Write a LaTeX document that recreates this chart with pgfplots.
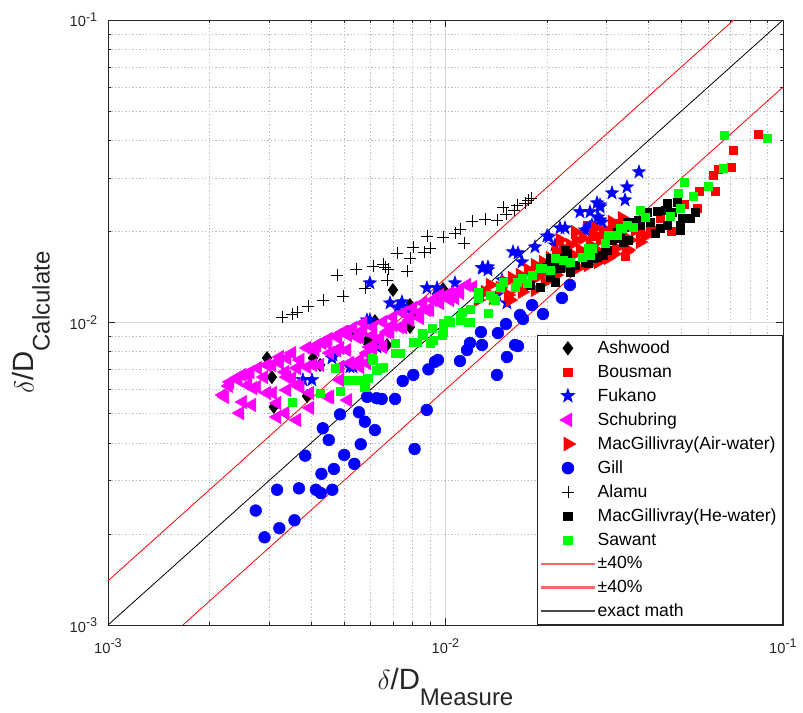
\documentclass[border=0pt]{standalone}
\usepackage{fontspec}
\setmainfont{Liberation Sans}
\usepackage{pgfplots}
\pgfplotsset{compat=1.18}
\definecolor{mgreen}{rgb}{0,1,0}
\definecolor{mmag}{rgb}{1,0,1}
\definecolor{mred}{rgb}{1,0,0}
\definecolor{mblue}{rgb}{0,0,1}
\definecolor{axgray}{HTML}{262626}
\pgfdeclareplotmark{fstar}{%
  \pgfpathmoveto{\pgfpointpolar{90}{\pgfplotmarksize}}%
  \pgfpathlineto{\pgfpointpolar{126}{0.40\pgfplotmarksize}}%
  \pgfpathlineto{\pgfpointpolar{162}{\pgfplotmarksize}}%
  \pgfpathlineto{\pgfpointpolar{198}{0.40\pgfplotmarksize}}%
  \pgfpathlineto{\pgfpointpolar{234}{\pgfplotmarksize}}%
  \pgfpathlineto{\pgfpointpolar{270}{0.40\pgfplotmarksize}}%
  \pgfpathlineto{\pgfpointpolar{306}{\pgfplotmarksize}}%
  \pgfpathlineto{\pgfpointpolar{342}{0.40\pgfplotmarksize}}%
  \pgfpathlineto{\pgfpointpolar{18}{\pgfplotmarksize}}%
  \pgfpathlineto{\pgfpointpolar{54}{0.40\pgfplotmarksize}}%
  \pgfpathclose
  \pgfusepathqfillstroke}
\newcommand{\tl}[1]{10\raisebox{4pt}{\fontsize{9.5}{10}\selectfont #1}}
\begin{document}
\begin{tikzpicture}
\begin{axis}[name=ax,
  scale only axis, width=506.25pt, height=453.75pt,
  xmode=log, ymode=log,
  xmin=1e-3, xmax=1e-1, ymin=1e-3, ymax=1e-1,
  xtick={0.001,0.01,0.1}, ytick={0.001,0.01,0.1},
  xticklabels={\tl{-3},\tl{-2},\tl{-1}},
  yticklabels={\tl{-3},\tl{-2},\tl{-1}},
  minor xtick={0.002,0.003,0.004,0.005,0.006,0.007,0.008,0.009,0.02,0.03,0.04,0.05,0.06,0.07,0.08,0.09},
  minor ytick={0.002,0.003,0.004,0.005,0.006,0.007,0.008,0.009,0.02,0.03,0.04,0.05,0.06,0.07,0.08,0.09},
  xmajorgrids, ymajorgrids, xminorgrids, yminorgrids,
  major grid style={color=black!15, line width=0.5pt},
  minor grid style={color=black!25, dash pattern=on 1pt off 1.6pt, line width=0.5pt},
  axis line style={color=axgray, line width=0.6pt},
  tick style={color=axgray, line width=0.5pt},
  major tick length=5pt, minor tick length=2.6pt,
  tick label style={font=\fontsize{11}{12}\selectfont, text=axgray},
  xticklabel style={yshift=-7pt},
  yticklabel style={xshift=-4.5pt},
  ylabel={$\delta$/D\raisebox{-12pt}{\fontsize{18}{20}\selectfont Calculate}},
  xlabel={$\delta$/D\raisebox{-12pt}{\fontsize{18}{20}\selectfont Measure}},
  ylabel style={font=\fontsize{22}{24}\selectfont, text=axgray, at={(rel axis cs:-0.110,0.5)}, anchor=base},
  xlabel style={font=\fontsize{22}{24}\selectfont, text=axgray, at={(rel axis cs:0.5,-0.1074)}, anchor=base},
  legend image code/.code={\draw[mark repeat=2,mark phase=2,#1] plot coordinates {(0pt,0pt) (20pt,0pt) (40pt,0pt)};},
  legend style={at={(1,0)}, anchor=south east, draw=axgray, fill=white, line width=0.6pt,
    font=\fontsize{13.2}{15.5}\selectfont, cells={anchor=west}, row sep=3pt, inner sep=2.5pt},
  legend cell align=left,
]
% Ashwood
\addplot[only marks, mark=diamond*, mark size=4.9pt, color=black] coordinates {
(2.96e-3,7.63e-3) (3.06e-3,6.60e-3) (3.10e-3,5.26e-3) (3.89e-3,5.71e-3) (4.05e-3,7.63e-3)
(4.25e-3,7.24e-3) (5.14e-3,9.30e-3) (5.85e-3,8.62e-3) (6.18e-3,1.011e-2) (6.71e-3,8.43e-3)
(5.39e-3,9.23e-3) (5.89e-3,8.80e-3) (6.99e-3,1.281e-2) (7.85e-3,1.143e-2) (9.83e-3,1.291e-2)
(9.44e-3,1.243e-2) (7.85e-3,9.66e-3) (8.01e-3,1.083e-2)
};
\addlegendentry{Ashwood}
% Bousman
\addplot[only marks, mark=square*, mark size=3.1pt, color=mred] coordinates {
(8.435e-2,4.200e-2) (7.111e-2,3.718e-2) (7.014e-2,3.266e-2) (6.418e-2,3.217e-2) (6.204e-2,3.074e-2)
(6.291e-2,2.721e-2) (5.639e-2,2.721e-2) (5.562e-2,2.391e-2) (5.091e-2,2.465e-2) (4.659e-2,2.007e-2)
(4.092e-2,2.022e-2) (3.404e-2,1.659e-2) (3.180e-2,2.133e-2) (2.774e-2,1.932e-2) (2.626e-2,2.101e-2)
(3.357e-2,2.101e-2) (3.136e-2,1.737e-2) (4.322e-2,2.215e-2) (3.770e-2,1.992e-2) (2.989e-2,2.022e-2)
};
\addlegendentry{Bousman}
% Fukano
\addplot[only marks, mark=fstar, mark size=5.3pt, color=mblue] coordinates {
(3.78e-3,6.46e-3) (4.02e-3,6.46e-3) (4.61e-3,7.63e-3) (5.21e-3,7.13e-3) (4.64e-3,7.81e-3)
(5.85e-3,1.019e-2) (6.26e-3,8.43e-3) (6.85e-3,1.160e-2) (7.23e-3,1.125e-2) (5.97e-3,1.351e-2)
(7.43e-3,1.169e-2) (8.81e-3,1.301e-2) (9.44e-3,1.301e-2) (1.067e-2,1.351e-2) (5.97e-3,1.019e-2)
(5.32e-3,7.13e-3) (6.26e-3,8.30e-3) (7.69e-3,1.108e-2) (1.284e-2,1.515e-2) (1.336e-2,1.526e-2)
(1.471e-2,1.382e-2) (1.585e-2,1.711e-2) (1.686e-2,1.585e-2) (1.842e-2,1.777e-2) (1.999e-2,1.932e-2)
(2.111e-2,1.804e-2) (2.184e-2,2.053e-2) (2.503e-2,2.320e-2) (2.680e-2,2.320e-2) (2.812e-2,2.484e-2)
(2.591e-2,2.022e-2) (2.680e-2,2.069e-2) (1.521e-2,1.160e-2) (1.421e-2,1.233e-2) (3.115e-2,2.680e-2)
(3.404e-2,2.541e-2) (3.450e-2,2.805e-2) (2.870e-2,2.446e-2) (2.831e-2,2.232e-2) (2.910e-2,2.149e-2)
(2.260e-2,2.053e-2) (2.026e-2,1.917e-2) (1.640e-2,1.698e-2) (3.744e-2,3.145e-2) (2.870e-2,2.409e-2)
(2.717e-2,2.101e-2) (2.555e-2,1.977e-2) (2.870e-2,2.182e-2) (1.336e-2,1.492e-2) (1.292e-2,1.515e-2)
};
\addlegendentry{Fukano}
% Schubring
\addplot[only marks, mark=triangle*, mark options={rotate=90}, mark size=5.8pt, color=mmag] coordinates {
(2.19e-3,5.76e-3) (2.22e-3,5.67e-3) (2.28e-3,6.17e-3) (2.30e-3,6.36e-3) (2.41e-3,6.55e-3)
(2.43e-3,6.46e-3) (2.50e-3,6.71e-3) (2.58e-3,6.71e-3) (2.60e-3,6.21e-3) (2.64e-3,6.86e-3)
(2.69e-3,6.07e-3) (2.51e-3,5.46e-3) (2.67e-3,5.34e-3) (2.46e-3,5.02e-3) (2.76e-3,6.12e-3)
(2.78e-3,7.07e-3) (2.96e-3,7.24e-3) (2.96e-3,5.85e-3) (2.90e-3,6.60e-3) (3.06e-3,7.24e-3)
(3.08e-3,5.85e-3) (3.17e-3,4.87e-3) (3.17e-3,5.42e-3) (3.23e-3,7.35e-3) (3.23e-3,7.69e-3)
(3.35e-3,6.86e-3) (3.35e-3,5.02e-3) (3.39e-3,7.63e-3) (3.39e-3,6.60e-3) (3.39e-3,5.98e-3)
(3.51e-3,7.93e-3) (3.51e-3,6.55e-3) (3.63e-3,7.07e-3) (3.63e-3,6.21e-3) (3.63e-3,4.76e-3)
(3.71e-3,7.52e-3) (3.71e-3,6.12e-3) (3.89e-3,8.24e-3) (3.89e-3,7.13e-3) (3.97e-3,5.85e-3)
(3.97e-3,5.22e-3) (4.05e-3,7.24e-3) (4.11e-3,8.11e-3) (4.16e-3,8.43e-3) (4.25e-3,7.24e-3)
(4.31e-3,8.56e-3) (4.46e-3,8.56e-3) (4.49e-3,8.82e-3) (4.49e-3,5.67e-3) (4.55e-3,7.93e-3)
(4.55e-3,5.67e-3) (4.77e-3,8.95e-3) (4.77e-3,8.11e-3) (4.80e-3,9.09e-3) (4.87e-3,8.24e-3)
(4.87e-3,7.13e-3) (4.87e-3,6.46e-3) (5.11e-3,9.30e-3) (5.14e-3,9.09e-3) (5.14e-3,5.54e-3)
(5.47e-3,8.95e-3) (5.58e-3,7.52e-3) (5.85e-3,7.93e-3) (4.97e-3,9.30e-3) (5.32e-3,9.59e-3)
(5.70e-3,9.96e-3) (6.10e-3,9.66e-3) (6.53e-3,1.004e-2) (6.99e-3,1.042e-2) (7.48e-3,1.075e-2)
(8.01e-3,1.117e-2) (8.58e-3,1.160e-2) (9.18e-3,1.187e-2) (9.63e-3,1.233e-2) (1.031e-2,1.252e-2)
(1.104e-2,1.281e-2) (1.158e-2,1.331e-2) (5.58e-3,8.95e-3) (6.10e-3,9.09e-3) (6.71e-3,9.30e-3)
(7.33e-3,9.66e-3) (7.85e-3,1.019e-2) (8.40e-3,1.035e-2) (9.00e-3,1.100e-2) (5.11e-3,8.11e-3)
(5.58e-3,7.13e-3) (6.53e-3,8.30e-3) (6.10e-3,8.24e-3) (5.21e-3,7.35e-3) (6.40e-3,8.89e-3)
(6.85e-3,9.30e-3) (6.99e-3,9.81e-3) (5.70e-3,9.45e-3) (5.97e-3,8.30e-3) (6.40e-3,8.75e-3)
(6.85e-3,9.45e-3) (7.48e-3,9.66e-3) (7.85e-3,1.042e-2) (8.81e-3,1.100e-2) (9.63e-3,1.160e-2)
(1.031e-2,1.187e-2) (1.104e-2,1.252e-2) (1.207e-2,1.310e-2) (5.58e-3,7.35e-3) (5.85e-3,7.35e-3)
(1.067e-2,1.205e-2) (8.40e-3,1.083e-2) (9.97e-3,1.224e-2)
};
\addlegendentry{Schubring}
% MacGillivray (Air-water)
\addplot[only marks, mark=triangle*, mark options={rotate=-90}, mark size=5.8pt, color=mred] coordinates {
(1.249e-2,1.187e-2) (1.310e-2,1.262e-2) (1.355e-2,1.331e-2) (1.383e-2,1.205e-2) (1.451e-2,1.301e-2)
(1.502e-2,1.361e-2) (1.532e-2,1.233e-2) (1.575e-2,1.403e-2) (1.607e-2,1.301e-2) (1.663e-2,1.436e-2)
(1.720e-2,1.331e-2) (1.756e-2,1.492e-2) (1.805e-2,1.382e-2) (1.842e-2,1.549e-2) (1.905e-2,1.436e-2)
(1.945e-2,1.585e-2) (1.985e-2,1.492e-2) (2.040e-2,1.634e-2) (2.082e-2,1.515e-2) (2.125e-2,1.711e-2)
(2.184e-2,1.585e-2) (2.229e-2,1.764e-2) (2.275e-2,1.634e-2) (2.338e-2,1.804e-2) (2.387e-2,1.672e-2)
(2.436e-2,1.874e-2) (2.503e-2,1.737e-2) (2.555e-2,1.903e-2) (2.608e-2,1.634e-2) (2.680e-2,1.804e-2)
(2.736e-2,1.947e-2) (2.793e-2,1.737e-2) (2.870e-2,1.874e-2) (2.930e-2,1.992e-2) (2.989e-2,1.672e-2)
(3.072e-2,1.903e-2) (3.136e-2,2.053e-2) (3.200e-2,1.764e-2) (3.289e-2,1.947e-2) (3.357e-2,2.101e-2)
(3.427e-2,1.711e-2) (3.522e-2,1.874e-2) (3.645e-2,2.022e-2) (3.770e-2,1.846e-2) (3.900e-2,1.932e-2)
(4.036e-2,1.992e-2) (2.643e-2,1.549e-2) (2.831e-2,1.585e-2) (3.030e-2,1.634e-2) (3.158e-2,1.685e-2)
(3.474e-2,1.737e-2) (2.469e-2,1.515e-2) (2.306e-2,1.538e-2) (2.125e-2,1.436e-2) (1.971e-2,1.361e-2)
(1.842e-2,1.281e-2) (1.686e-2,1.262e-2) (1.553e-2,1.187e-2) (2.184e-2,1.874e-2) (2.419e-2,1.992e-2)
(2.774e-2,2.053e-2) (3.115e-2,2.149e-2) (3.335e-2,2.215e-2)
};
\addlegendentry{MacGillivray(Air-water)}
% Gill
\addplot[only marks, mark=*, mark size=4.4pt, color=mblue] coordinates {
(2.74e-3,2.39e-3) (2.91e-3,1.95e-3) (3.22e-3,2.09e-3) (3.57e-3,2.22e-3) (3.17e-3,2.80e-3)
(3.68e-3,2.83e-3) (4.13e-3,2.80e-3) (4.27e-3,2.73e-3) (4.62e-3,2.80e-3) (4.29e-3,3.16e-3)
(4.67e-3,3.28e-3) (5.37e-3,3.41e-3) (5.01e-3,3.65e-3) (3.84e-3,3.63e-3) (4.33e-3,4.47e-3)
(4.51e-3,4.09e-3) (4.87e-3,4.97e-3) (5.54e-3,5.05e-3) (5.77e-3,4.70e-3) (6.18e-3,4.41e-3)
(5.61e-3,3.96e-3) (8.10e-3,3.82e-3) (8.80e-3,5.14e-3) (5.86e-3,5.68e-3) (6.25e-3,5.62e-3)
(6.47e-3,5.59e-3) (7.09e-3,5.59e-3) (7.47e-3,6.41e-3) (8.03e-3,6.71e-3) (8.90e-3,7.00e-3)
(9.31e-3,7.42e-3) (9.50e-3,7.52e-3) (1.104e-2,7.46e-3) (1.158e-2,8.11e-3) (1.182e-2,8.56e-3)
(1.283e-2,8.43e-3) (1.274e-2,9.30e-3) (1.430e-2,9.23e-3) (1.511e-2,9.89e-3) (1.663e-2,1.059e-2)
(1.697e-2,1.027e-2) (1.805e-2,1.142e-2) (1.640e-2,8.36e-3) (1.521e-2,7.69e-3) (1.421e-2,6.71e-3)
(2.338e-2,1.330e-2) (2.214e-2,1.205e-2) (1.945e-2,1.067e-2) (1.607e-2,8.43e-3)
};
\addlegendentry{Gill}
% Alamu
\addplot[only marks, mark=+, mark size=4.3pt, color=black, mark options={line width=0.5pt}] coordinates {
(3.28e-3,1.043e-2) (3.51e-3,1.067e-2) (3.63e-3,1.083e-2) (3.91e-3,1.134e-2) (4.34e-3,1.187e-2)
(4.97e-3,1.224e-2) (4.77e-3,1.436e-2) (5.43e-3,1.503e-2) (5.77e-3,1.300e-2) (6.10e-3,1.537e-2)
(6.53e-3,1.561e-2) (6.62e-3,1.526e-2) (6.75e-3,1.503e-2) (6.71e-3,1.382e-2) (7.18e-3,1.697e-2)
(7.69e-3,1.480e-2) (7.85e-3,1.634e-2) (8.01e-3,1.777e-2) (8.64e-3,1.710e-2) (9.00e-3,1.764e-2)
(8.81e-3,1.932e-2) (9.83e-3,1.917e-2) (1.067e-2,1.976e-2) (1.104e-2,2.037e-2) (1.134e-2,1.832e-2)
(1.198e-2,2.165e-2) (1.309e-2,2.198e-2) (1.421e-2,2.182e-2) (1.481e-2,2.409e-2) (1.511e-2,2.284e-2)
(1.596e-2,2.354e-2) (1.629e-2,2.446e-2) (1.720e-2,2.483e-2) (1.756e-2,2.541e-2) (1.792e-2,2.580e-2)
};
\addlegendentry{Alamu}
% MacGillivray (He-water)
\addplot[only marks, mark=square*, mark size=3.1pt, color=black] coordinates {
(1.780e-2,1.331e-2) (1.905e-2,1.310e-2) (2.040e-2,1.414e-2) (1.999e-2,1.526e-2) (2.140e-2,1.573e-2)
(2.260e-2,1.737e-2) (2.184e-2,1.634e-2) (2.338e-2,1.470e-2) (2.419e-2,1.549e-2) (2.643e-2,1.573e-2)
(2.812e-2,1.646e-2) (2.930e-2,1.672e-2) (2.970e-2,1.737e-2) (2.040e-2,1.634e-2) (2.111e-2,1.361e-2)
(2.290e-2,1.698e-2) (2.184e-2,1.515e-2) (2.026e-2,1.549e-2) (2.338e-2,1.585e-2) (2.910e-2,1.672e-2)
(3.009e-2,1.737e-2) (3.357e-2,1.846e-2) (3.450e-2,2.149e-2) (3.289e-2,1.903e-2) (3.474e-2,1.874e-2)
(2.736e-2,1.634e-2) (2.591e-2,1.585e-2) (3.450e-2,2.069e-2) (3.571e-2,2.149e-2) (3.718e-2,2.182e-2)
(3.954e-2,2.320e-2) (4.234e-2,2.337e-2) (4.473e-2,2.355e-2) (4.533e-2,2.484e-2) (4.852e-2,2.503e-2)
(5.022e-2,2.215e-2) (5.303e-2,2.215e-2) (4.953e-2,2.101e-2) (4.533e-2,2.101e-2) (4.322e-2,2.053e-2)
(4.176e-2,1.977e-2) (4.953e-2,2.022e-2) (3.115e-2,1.874e-2) (3.223e-2,1.992e-2) (3.770e-2,2.101e-2)
(4.036e-2,2.149e-2) (5.489e-2,2.320e-2) (4.691e-2,2.320e-2)
};
\addlegendentry{MacGillivray(He-water)}
% Sawant
\addplot[only marks, mark=square*, mark size=3.1pt, color=mgreen] coordinates {
(3.51e-3,5.46e-3) (4.25e-3,5.85e-3) (4.71e-3,7.07e-3) (4.87e-3,5.94e-3) (5.14e-3,6.46e-3)
(5.50e-3,6.46e-3) (5.77e-3,6.12e-3) (5.89e-3,6.55e-3) (6.06e-3,7.63e-3) (6.26e-3,6.97e-3)
(6.53e-3,7.13e-3) (7.09e-3,8.56e-3) (7.09e-3,7.93e-3) (6.10e-3,7.52e-3) (6.40e-3,7.07e-3)
(7.33e-3,7.93e-3) (8.01e-3,8.62e-3) (8.52e-3,9.23e-3) (9.00e-3,8.56e-3) (9.12e-3,9.59e-3)
(9.77e-3,9.09e-3) (9.83e-3,9.96e-3) (1.017e-2,1.019e-2) (1.104e-2,1.019e-2) (1.166e-2,1.004e-2)
(1.119e-2,1.083e-2) (1.182e-2,1.108e-2) (1.249e-2,1.262e-2) (1.336e-2,1.075e-2) (1.355e-2,1.233e-2)
(1.402e-2,1.187e-2) (1.481e-2,1.361e-2) (1.607e-2,1.310e-2) (1.629e-2,1.361e-2) (1.182e-2,1.004e-2)
(1.031e-2,1.004e-2) (1.104e-2,1.042e-2) (9.83e-3,9.30e-3) (9.18e-3,8.75e-3) (8.58e-3,9.09e-3)
(8.24e-3,8.62e-3) (1.383e-2,1.205e-2) (1.451e-2,1.310e-2) (1.686e-2,1.403e-2) (1.744e-2,1.351e-2)
(1.905e-2,1.515e-2) (2.040e-2,1.492e-2) (2.229e-2,1.609e-2) (2.338e-2,1.585e-2) (2.538e-2,1.646e-2)
(2.643e-2,1.764e-2) (2.680e-2,1.672e-2) (1.249e-2,1.205e-2) (1.931e-2,1.515e-2) (2.717e-2,1.764e-2)
(2.970e-2,1.832e-2) (3.223e-2,1.947e-2) (3.335e-2,2.053e-2) (3.450e-2,2.101e-2) (6.688e-2,4.168e-2)
(8.966e-2,4.073e-2) (6.642e-2,3.242e-2) (5.091e-2,2.914e-2) (4.885e-2,2.680e-2) (5.413e-2,2.619e-2)
(5.995e-2,2.826e-2) (4.953e-2,2.391e-2) (4.627e-2,2.249e-2) (3.770e-2,2.355e-2) (3.900e-2,2.232e-2)
(3.595e-2,2.069e-2) (3.289e-2,2.053e-2) (3.030e-2,1.947e-2) (2.111e-2,1.634e-2) (1.805e-2,1.436e-2)
};
\addlegendentry{Sawant}
\addplot[color=mred, line width=0.6pt, legend image code/.code={\fill[mred!60] (0pt,-0.45pt) rectangle (40pt,0.45pt);}] coordinates {(0.001,0.0014) (0.0714286,0.1)};
\addlegendentry{±40\%}
\addplot[color=mred, line width=0.6pt, legend image code/.code={\fill[mred!60] (0pt,-0.45pt) rectangle (40pt,0.45pt);}] coordinates {(0.0016667,0.001) (0.1,0.06)};
\addlegendentry{±40\%}
\addplot[color=black, line width=0.6pt, legend image code/.code={\fill[black!70] (0pt,-0.45pt) rectangle (40pt,0.45pt);}] coordinates {(0.001,0.001) (0.1,0.1)};
\addlegendentry{exact math}
\end{axis}
\pgfresetboundingbox
\path ([xshift=-81pt,yshift=-66pt]ax.south west) rectangle ([xshift=15pt,yshift=15pt]ax.north east);
\end{tikzpicture}
\end{document}
